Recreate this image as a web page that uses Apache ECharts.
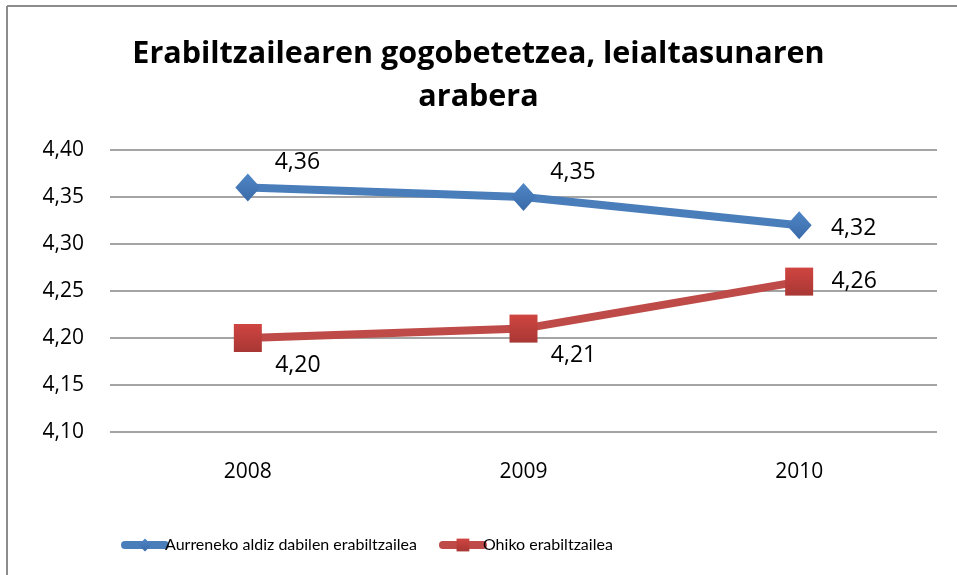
<!DOCTYPE html>
<html>
<head>
<meta charset="utf-8">
<script src="https://cdn.jsdelivr.net/npm/echarts@6/dist/echarts.min.js"></script>
<style>
  html, body { margin: 0; padding: 0; background: #fff; }
  #chart { width: 957px; height: 575px; }
</style>
</head>
<body>
<div id="chart"></div>
<script>
const years = ['2008', '2009', '2010'];
const firstTimeUsers = [4.36, 4.35, 4.32];
const regularUsers = [4.20, 4.21, 4.26];
const seriesNames = ['Aurreneko aldiz dabilen erabiltzailea', 'Ohiko erabiltzailea'];

const chart = echarts.init(document.getElementById('chart'));

// comma decimals, like the original
const fmt = (v) => v.toFixed(2).replace('.', ',');
const font = '"Open Sans", Lato, sans-serif';

const option = {
  animation: false,
  textStyle: { fontFamily: font },
  title: {
    text: 'Erabiltzailearen gogobetetzea, leialtasunaren\narabera',
    left: 'center',
    top: 28,
    textStyle: {
      fontSize: 30.5,
      fontWeight: 'bold',
      color: '#000',
      lineHeight: 43,
      fontFamily: font,
    },
  },
  graphic: [
    { type: 'line', shape: { x1: 7, y1: 6, x2: 957, y2: 6 }, style: { stroke: '#8c8c8c', lineWidth: 2 } },
    { type: 'line', shape: { x1: 7, y1: 6, x2: 7, y2: 575 }, style: { stroke: '#8c8c8c', lineWidth: 2 } },
  ],
  grid: {
    left: 110,
    right: 20,
    top: 150,
    bottom: 143,
  },
  legend: {
    bottom: 17,
    left: 116,
    itemWidth: 40,
    itemHeight: 16,
    itemGap: 22,
    lineStyle: { width: 8, cap: 'round' },
    textStyle: { fontSize: 16, color: '#000', fontFamily: 'Lato, sans-serif', padding: [0, 0, 0, -5] },
    data: seriesNames,
  },
  xAxis: {
    type: 'category',
    data: years,
    axisLine: { show: false },
    axisTick: { show: false },
    axisLabel: { fontSize: 21, color: '#000', margin: 30 },
  },
  yAxis: {
    type: 'value',
    min: 4.1,
    max: 4.4,
    interval: 0.05,
    axisLine: { show: false },
    axisTick: { show: false },
    axisLabel: { fontSize: 21, color: '#000', margin: 26, formatter: fmt },
    splitLine: { lineStyle: { color: '#868686', width: 1.5 } },
  },
  series: [
    {
      name: seriesNames[0],
      type: 'line',
      data: firstTimeUsers,
      symbol: 'diamond',
      symbolSize: [25, 28],
      itemStyle: {
        color: new echarts.graphic.LinearGradient(0, 0, 0, 1, [
          { offset: 0, color: '#4f86c6' },
          { offset: 1, color: '#3a6aa8' },
        ]),
      },
      lineStyle: { width: 8, color: '#4a7ebb' },
      label: {
        show: true,
        fontSize: 23,
        color: '#000',
        align: 'center',
        verticalAlign: 'middle',
        formatter: (p) => fmt(p.value),
        position: [62, -11],
      },
      labelLayout: (params) => params.dataIndex === 2 ? { dx: 5, dy: 28 } : {},
    },
    {
      name: seriesNames[1],
      type: 'line',
      data: regularUsers,
      symbol: 'rect',
      symbolSize: 28,
      itemStyle: {
        color: new echarts.graphic.LinearGradient(0, 0, 0, 1, [
          { offset: 0, color: '#cf4541' },
          { offset: 1, color: '#a83734' },
        ]),
      },
      lineStyle: { width: 8, color: '#be4b48' },
      label: {
        show: true,
        fontSize: 23,
        color: '#000',
        align: 'center',
        verticalAlign: 'middle',
        formatter: (p) => fmt(p.value),
        position: [64, 41],
      },
      labelLayout: (params) => params.dataIndex === 2 ? { dx: 5, dy: -27 } : {},
    },
  ],
};

chart.setOption(option);
</script>
</body>
</html>
